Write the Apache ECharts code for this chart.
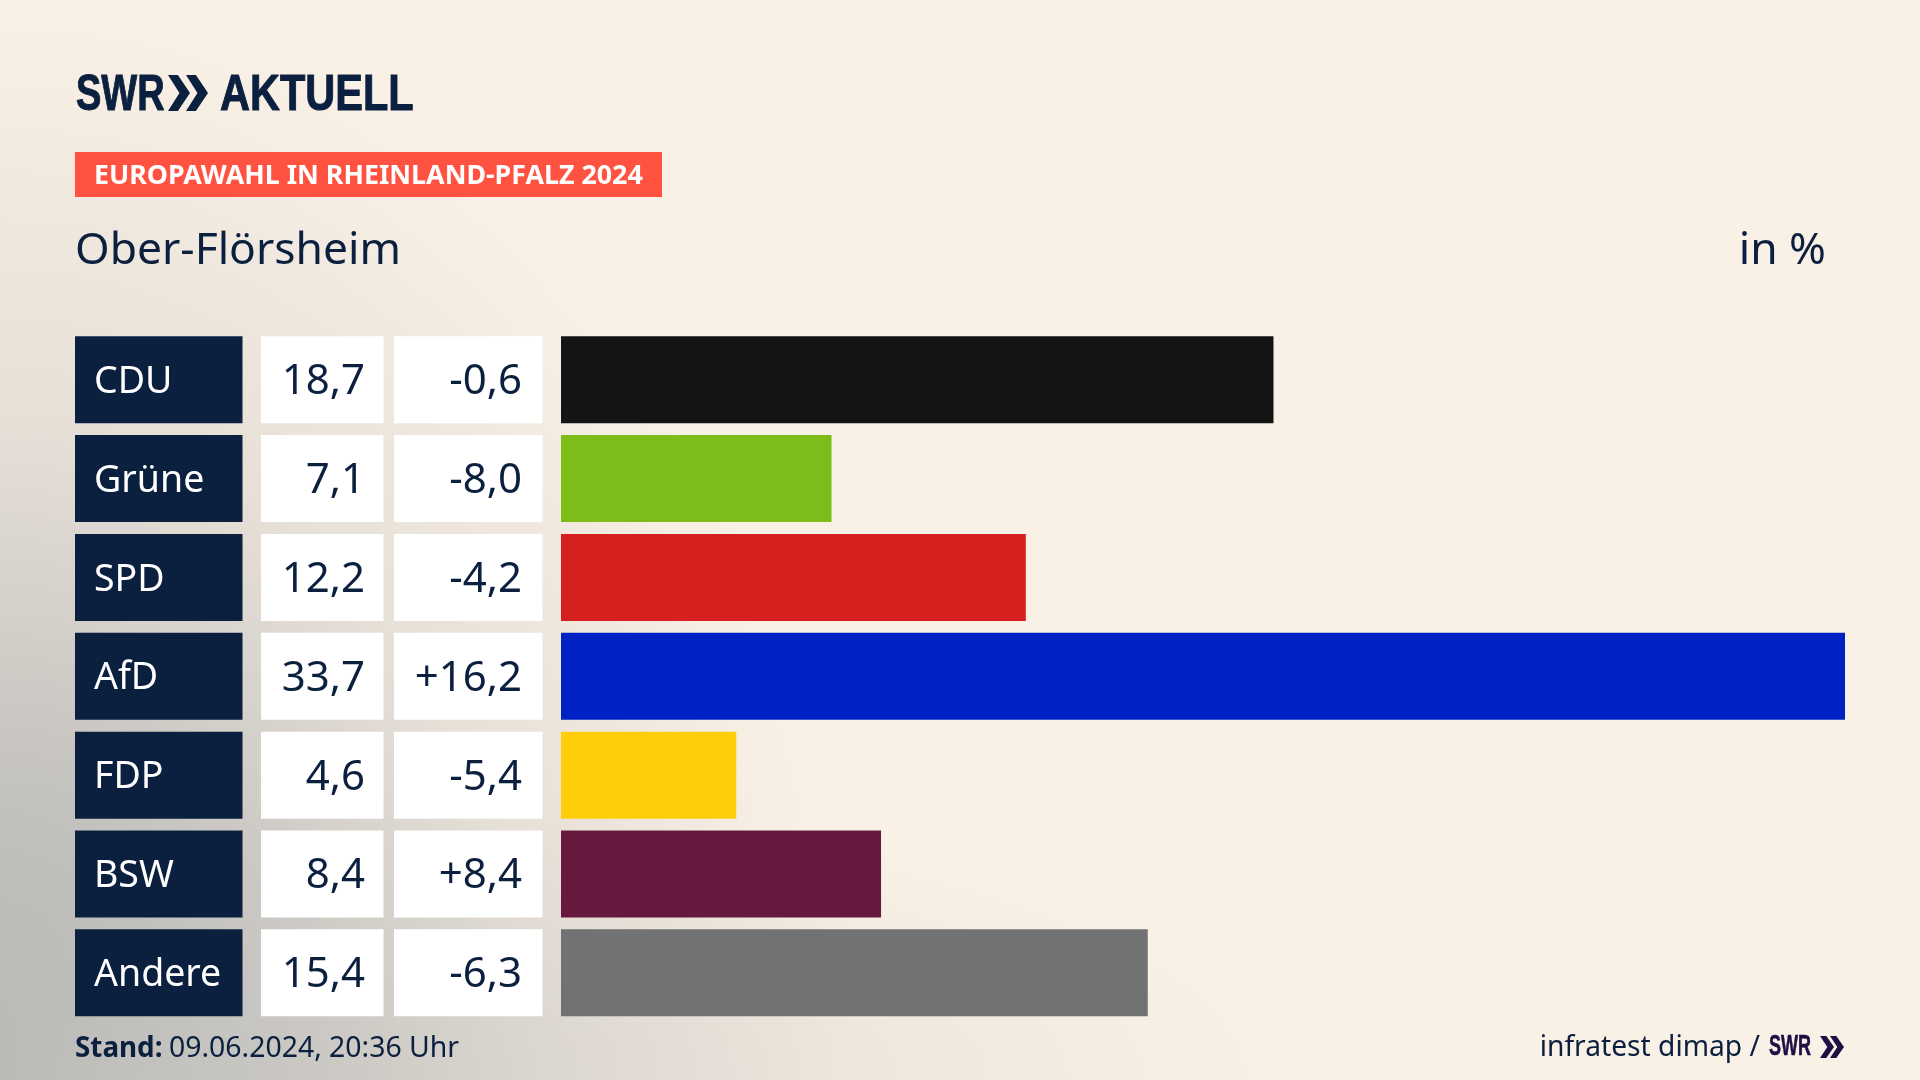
<!DOCTYPE html>
<html>
<head>
<meta charset="utf-8">
<title>Europawahl Ober-Flörsheim</title>
<script src="https://cdn.jsdelivr.net/npm/echarts@6/dist/echarts.min.js"></script>
<style>
html,body{margin:0;padding:0;width:1920px;height:1080px;overflow:hidden;background-color:#faf1e6;}
body{background-image:
  radial-gradient(ellipse 1150px 300px at 150px 1080px,rgba(200,198,194,.6) 0%,rgba(250,241,230,0) 100%),
  radial-gradient(ellipse 850px 1080px at 0px 1080px,rgba(172,173,172,1) 0%,rgba(198,196,192,.95) 32%,rgba(226,220,212,.8) 62%,rgba(250,241,230,0) 100%);}
#main{width:1920px;height:1080px;}
</style>
</head>
<body>
<div id="main"></div>
<script>
const categories = ['CDU', 'Grüne', 'SPD', 'AfD', 'FDP', 'BSW', 'Andere'];
const shares = [18.7, 7.1, 12.2, 33.7, 4.6, 8.4, 15.4];
const shareLabels = ['18,7', '7,1', '12,2', '33,7', '4,6', '8,4', '15,4'];
const deltaLabels = ['-0,6', '-8,0', '-4,2', '+16,2', '-5,4', '+8,4', '-6,3'];
const barColors = ['#141414', '#7cbd19', '#d61f1f', '#0021c4', '#ffcd0a', '#66183e', '#717273'];

const NAVY = '#0b1f3f';
const PURPLE = '#1f0f45';
const FONT = '"Noto Sans", sans-serif';
const LOGO_FONT = '"Liberation Sans", sans-serif';

// one custom series per table column, y comes from the category axis
function tableColumn(x, w, fill, color, align, textX, size, texts) {
  return {
    type: 'custom',
    coordinateSystem: 'cartesian2d',
    silent: true,
    data: categories.map((c, i) => [0, i]),
    encode: { x: 0, y: 1 },
    renderItem: function (params, api) {
      const cy = api.coord([0, api.value(1)])[1];
      const h = 87;
      return {
        type: 'group',
        children: [
          { type: 'rect', shape: { x: x, y: cy - h / 2, width: w, height: h }, style: { fill: fill } },
          { type: 'text', style: { x: textX, y: cy + 2.5, text: texts[params.dataIndex], fill: color,
            font: size + 'px ' + FONT, textAlign: align, textVerticalAlign: 'middle' } }
        ]
      };
    }
  };
}

function chevrons(x, y, h, w, gap, fill) {
  const one = (ox) => ({
    type: 'polygon',
    shape: { points: [[ox, y], [ox + w * 0.45, y], [ox + w, y + h / 2], [ox + w * 0.45, y + h], [ox, y + h], [ox + w * 0.52, y + h / 2]] },
    style: { fill: fill }
  });
  return [one(x), one(x + gap)];
}

function logoText(text, x, y, size, scaleX, fill) {
  return { type: 'text', x: x, y: y, scaleX: scaleX,
    style: { text: text, fill: fill, stroke: fill, lineWidth: size / 50, font: 'bold ' + size + 'px ' + LOGO_FONT, textVerticalAlign: 'middle' } };
}

const chart = echarts.init(document.getElementById('main'), null, { renderer: 'canvas' });
chart.setOption({
  animation: false,
  backgroundColor: 'transparent',
  grid: { left: 561, top: 330.3, width: 1284, height: 692, containLabel: false },
  xAxis: { type: 'value', min: 0, max: 33.7, show: false },
  yAxis: { type: 'category', inverse: true, data: categories, show: false },
  series: [
    {
      type: 'bar',
      barWidth: 87,
      silent: true,
      data: shares.map((v, i) => ({ value: v, itemStyle: { color: barColors[i] } }))
    },
    tableColumn(75, 167.5, NAVY, '#ffffff', 'left', 94, 37.5, categories),
    tableColumn(261, 122.5, '#ffffff', NAVY, 'right', 365, 42, shareLabels),
    tableColumn(394, 148.5, '#ffffff', NAVY, 'right', 522, 42, deltaLabels)
  ],
  graphic: [
    // SWR Aktuell logo
    logoText('SWR', 76, 96, 50, 0.76, NAVY),
    ...chevrons(168, 75, 36, 22, 18, NAVY),
    logoText('AKTUELL', 220, 96, 50, 0.83, NAVY),
    // badge
    { type: 'rect', shape: { x: 75, y: 152, width: 587, height: 45 }, style: { fill: '#ff5240' } },
    { type: 'text', x: 94, y: 176, style: { text: 'EUROPAWAHL IN RHEINLAND-PFALZ 2024', fill: '#ffffff', font: 'bold 26.8px ' + FONT, textVerticalAlign: 'middle' } },
    // title row
    { type: 'text', x: 75, y: 251.5, style: { text: 'Ober-Flörsheim', fill: NAVY, font: '44.4px ' + FONT, textVerticalAlign: 'middle' } },
    { type: 'text', x: 1826, y: 251.5, style: { text: 'in %', fill: NAVY, font: '44.4px ' + FONT, textAlign: 'right', textVerticalAlign: 'middle' } },
    // footer
    { type: 'text', x: 75, y: 1049, style: { text: 'Stand:', fill: NAVY, font: 'bold 27.8px ' + FONT, textVerticalAlign: 'middle' } },
    { type: 'text', x: 169, y: 1049, style: { text: '09.06.2024, 20:36 Uhr', fill: NAVY, font: '28.4px ' + FONT, textVerticalAlign: 'middle' } },
    { type: 'text', x: 1760, y: 1048, style: { text: 'infratest dimap /', fill: NAVY, font: '28.2px ' + FONT, textAlign: 'right', textVerticalAlign: 'middle' } },
    logoText('SWR', 1769, 1047, 29, 0.62, PURPLE),
    ...chevrons(1820, 1036, 22, 14, 10, PURPLE)
  ]
});
</script>
</body>
</html>
